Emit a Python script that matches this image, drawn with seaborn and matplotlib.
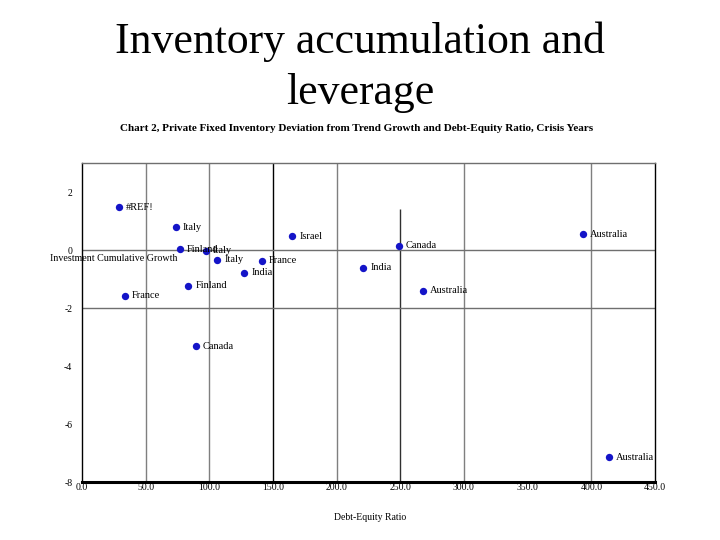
import matplotlib
matplotlib.use('Agg')
import matplotlib.pyplot as plt
import seaborn as sns
import pandas as pd

# Data
countries = ['#REF!', 'Italy', 'Finland', 'Italy', 'Italy', 'France', 'India', 'Israel',
             'India', 'Finland', 'France', 'Canada', 'Australia', 'Australia', 'Canada', 'Australia']
debt_equity = [29.1, 73.6, 77.0, 97.1, 106.3, 141.6, 127.5, 165.2,
               221.0, 83.5, 34.0, 248.7, 267.8, 393.2, 89.3, 413.9]
inv_growth = [1.48, 0.78, 0.02, -0.03, -0.34, -0.37, -0.78, 0.48,
              -0.61, -1.23, -1.57, 0.14, -1.40, 0.54, -3.32, -7.14]

x_ticks = [0, 50, 100, 150, 200, 250, 300, 350, 400, 450]
y_ticks = [-8, -6, -4, -2, 0, 2]

df = pd.DataFrame({'Country': countries, 'DebtEquity': debt_equity, 'Growth': inv_growth})

sns.set_style('white')
plt.rcParams['font.family'] = ['Liberation Serif', 'DejaVu Serif']
plt.rcParams['text.color'] = 'black'
plt.rcParams['xtick.color'] = 'black'
plt.rcParams['ytick.color'] = 'black'

fig = plt.figure(figsize=(7.2, 5.4), dpi=100)
ax = fig.add_axes([0.1139, 0.1074, 0.7958, 0.5907])

# Grid lines
for gx in [50, 100, 200, 300, 400]:
    ax.axvline(gx, color='#7f7f7f', lw=1, zorder=1)
ax.axvline(150, color='black', lw=1, zorder=1)
ax.vlines(250, -8, 1.4, color='#303030', lw=1, zorder=1)
for gy in [0, -2]:
    ax.axhline(gy, color='#6f6f6f', lw=1, zorder=1)

sns.scatterplot(data=df, x='DebtEquity', y='Growth', ax=ax, color='#1414c8',
                s=28, edgecolor='#1414c8', linewidth=0, zorder=3, legend=False)

for _, r in df.iterrows():
    ax.annotate(r['Country'], (r['DebtEquity'], r['Growth']), xytext=(5, 0),
                textcoords='offset points', va='center', ha='left', fontsize=7.5)

ax.set_xlim(0, 450)
ax.set_ylim(-8, 3)
ax.set_xticks(x_ticks)
ax.set_xticklabels([f'{v:.1f}' for v in x_ticks], fontsize=7)
ax.set_yticks(y_ticks)
ax.set_yticklabels([str(v) for v in y_ticks], fontsize=7)
ax.tick_params(axis='x', length=3, width=1, pad=1, direction='in')
ax.tick_params(axis='y', length=0, pad=7)

ax.spines['left'].set_color('black')
ax.spines['left'].set_linewidth(1)
ax.spines['bottom'].set_color('black')
ax.spines['bottom'].set_linewidth(2.2)
ax.spines['top'].set_color('#6f6f6f')
ax.spines['right'].set_color('black')
ax.spines['top'].set_linewidth(1)
ax.spines['right'].set_linewidth(1)

ax.set_xlabel('')
ax.set_ylabel('')
fig.text(0.5139, 0.041, 'Debt-Equity Ratio', ha='center', va='center', fontsize=7)
fig.text(0.158, 0.521, 'Investment Cumulative Growth', ha='center', va='center', fontsize=7.2)

fig.text(0.5, 0.876, 'Inventory accumulation and\nleverage', ha='center', va='center',
         fontsize=31.5, linespacing=1.36)
fig.text(0.4958, 0.762, 'Chart 2, Private Fixed Inventory Deviation from Trend Growth and Debt-Equity Ratio, Crisis Years',
         ha='center', va='center', fontsize=8, fontweight='bold')

fig.savefig('out.png', dpi=100)
